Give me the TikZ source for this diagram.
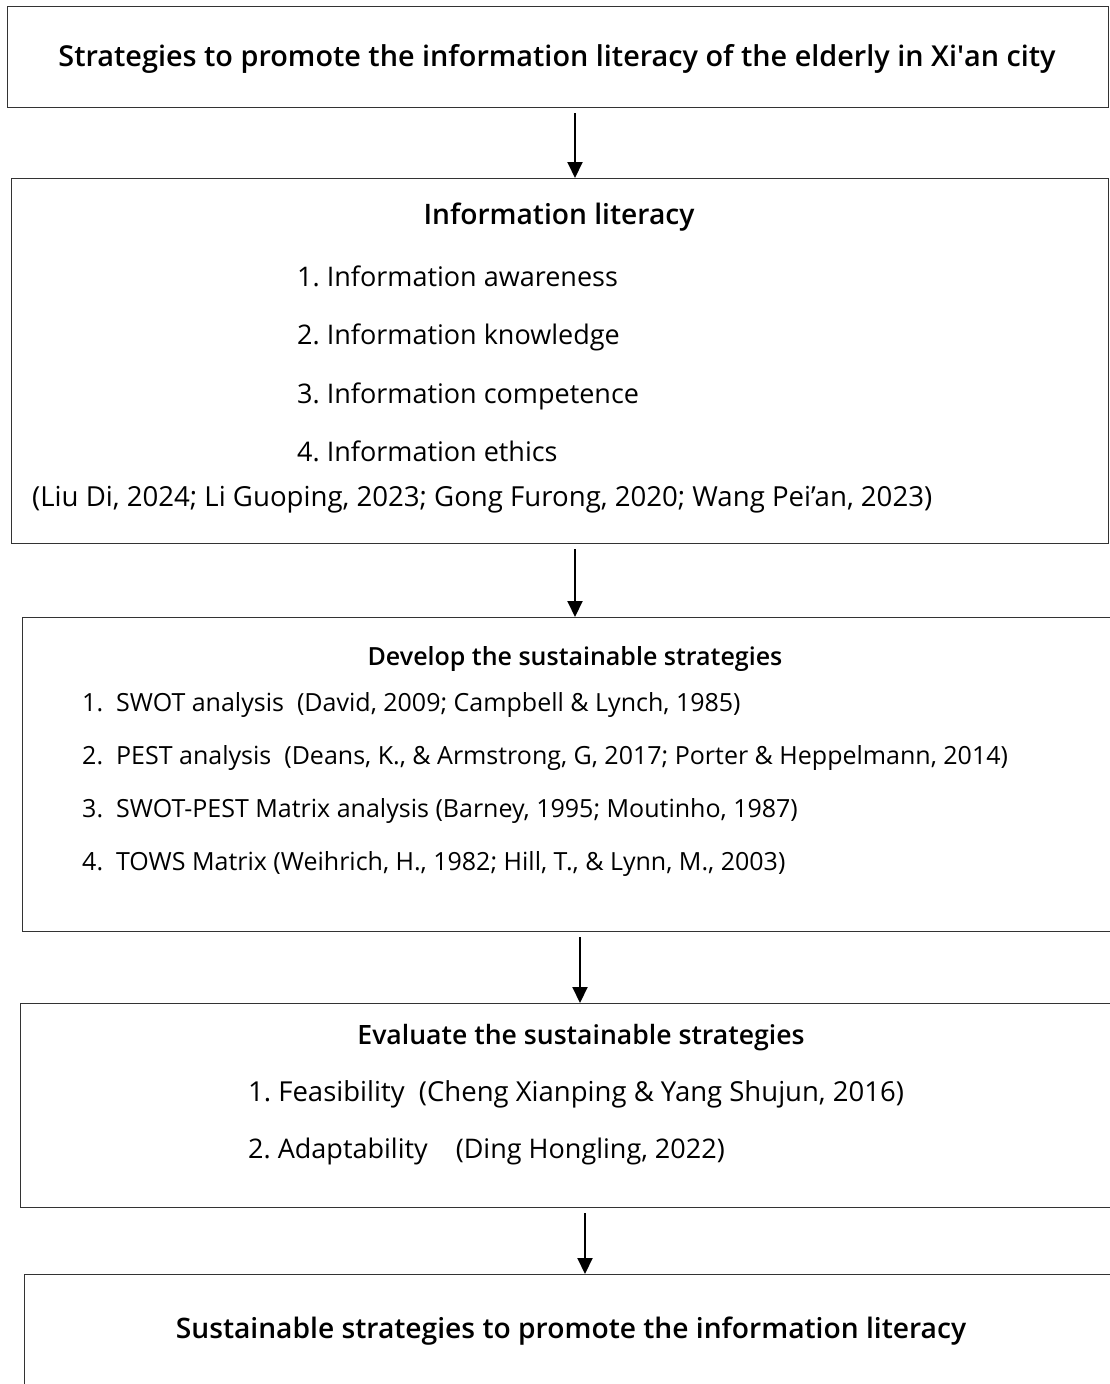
\documentclass[tikz,border=0pt]{standalone}
\usepackage{fontspec}
\setmainfont{Open Sans}[BoldFont={Open Sans Semibold}]
\usetikzlibrary{arrows.meta}
\begin{document}
\begin{tikzpicture}[x=1pt,y=-1pt,
  frame/.style={draw=black!80, line width=1.3pt, rectangle, inner sep=0pt, anchor=north west},
  head/.style={font=\fontsize{28.2}{33}\selectfont\bfseries, inner sep=0pt, text height=0.72em, text depth=0em},
  item/.style={font=\fontsize{27}{32}\selectfont, inner sep=0pt, anchor=west, text height=0.72em, text depth=0em},
  ref/.style={font=\fontsize{25}{30}\selectfont, inner sep=0pt, anchor=west, text height=0.72em, text depth=0em},
  link/.style={line width=2pt, -{Triangle[length=16pt,width=15pt]}, shorten <=5pt}
]
\useasboundingbox (0,0) rectangle (1110,1384);
\clip (0,0) rectangle (1110,1384);

% frames of the five stages
\node[frame, minimum width=1101pt, minimum height=101pt] (b1) at (7,6) {};
\node[frame, minimum width=1097pt, minimum height=365pt] (b2) at (11,178) {};
\node[frame, minimum width=1110pt, minimum height=314pt] (b3) at (22,617) {};
\node[frame, minimum width=1110pt, minimum height=204pt] (b4) at (20,1003) {};
\node[frame, minimum width=1110pt, minimum height=140pt] (b5) at (24,1274) {};

% stage 1
\node[head, font=\fontsize{28.8}{34}\selectfont\bfseries] (t1) at (557,63) {Strategies to promote the information literacy of the elderly in Xi\textquotesingle an city};

% stage 2
\node[head] (t2) at (559,221) {Information literacy};
\node[item] (t2a) at (297,283) {1.\ Information awareness};
\node[item] (t2b) at (297,341) {2.\ Information knowledge};
\node[item] (t2c) at (297,400) {3.\ Information competence};
\node[item] (t2d) at (297,458) {4.\ Information ethics};
\node[item, font=\fontsize{27.6}{32}\selectfont] (t2e) at (32,503) {(Liu Di, 2024; Li Guoping, 2023; Gong Furong, 2020; Wang Pei’an, 2023)};

% stage 3
\node[head, font=\fontsize{25}{30}\selectfont\bfseries] (t3) at (575,662) {Develop the sustainable strategies};
\node[ref] (t3a) at (82,708) {1.\ \ SWOT analysis\ \ (David, 2009; Campbell \& Lynch, 1985)};
\node[ref] (t3b) at (82,761) {2.\ \ PEST analysis\ \ (Deans, K., \& Armstrong, G, 2017; Porter \& Heppelmann, 2014)};
\node[ref] (t3c) at (82,814) {3.\ \ SWOT-PEST Matrix analysis (Barney, 1995; Moutinho, 1987)};
\node[ref] (t3d) at (82,867) {4.\ \ TOWS Matrix (Weihrich, H., 1982; Hill, T., \& Lynn, M., 2003)};

% stage 4
\node[head, font=\fontsize{26.6}{31}\selectfont\bfseries] (t4) at (581,1041) {Evaluate the sustainable strategies};
\node[item, font=\fontsize{27.5}{32}\selectfont] (t4a) at (248,1098) {1.\ Feasibility\ \ (Cheng Xianping \& Yang Shujun, 2016)};
\node[item] (t4b) at (248,1155) {2.\ Adaptability\ \ \ \ (Ding Hongling, 2022)};

% stage 5
\node[head] (t5) at (571,1335) {Sustainable strategies to promote the information literacy};

% connectors
\coordinate (k1) at (575,0);
\coordinate (k2) at (575,0);
\coordinate (k3) at (580,0);
\coordinate (k4) at (585,0);
\draw[link] (b1.south -| k1) -- (b2.north -| k1);
\draw[link] (b2.south -| k2) -- (b3.north -| k2);
\draw[link] (b3.south -| k3) -- (b4.north -| k3);
\draw[link] (b4.south -| k4) -- (b5.north -| k4);
\end{tikzpicture}
\end{document}
